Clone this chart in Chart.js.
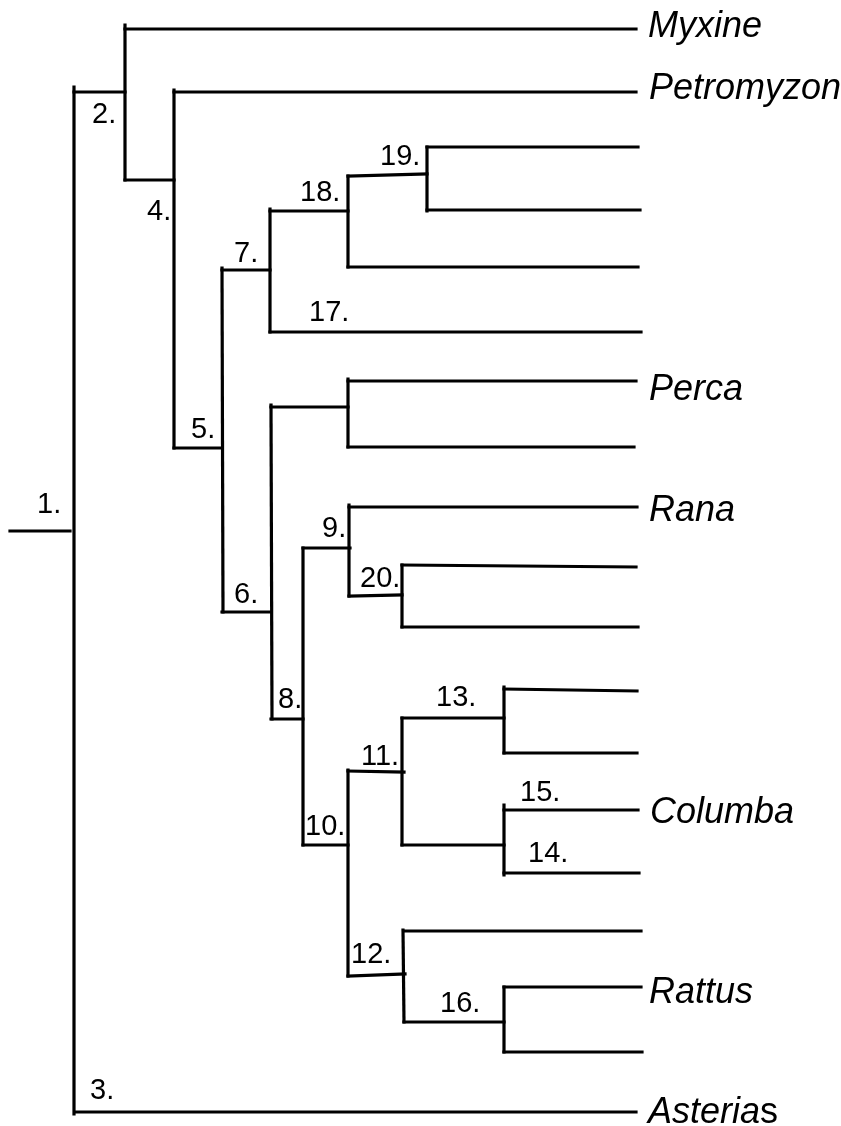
<!DOCTYPE html>
<html>
<head>
<meta charset="utf-8">
<script src="https://cdn.jsdelivr.net/npm/chart.js@4.4.0/dist/chart.umd.min.js"></script>
<style>
  html, body { margin: 0; padding: 0; background: #ffffff; }
  #wrap { position: relative; width: 841px; height: 1126px; }
</style>
</head>
<body>
<div id="wrap"><canvas id="c"></canvas></div>
<script>
// ---- Tree branches (data units of the x/y scales) ----
// horizontal branches: start x/y, end x/y
const hX0 = [125, 174, 427, 427, 348, 270, 348, 348, 349, 402, 402, 504, 504, 504, 504, 404, 504, 504, 75,
             10, 74, 125, 174, 222, 270, 348, 222, 271, 271, 303, 349, 303, 348, 402, 402, 348, 404];
const hY0 = [29, 92, 147, 210, 267, 332, 381, 447, 507, 565, 627, 689, 753, 810, 873, 931, 987, 1052, 1112,
             531, 92, 180, 448, 270, 211, 176, 612, 407, 719, 548, 596, 845, 771, 718, 845, 976, 1022];
const hX1 = [636, 636, 638, 640, 638, 641, 636, 634, 637, 636, 638, 637, 637, 638, 639, 641, 641, 642, 636,
             70, 125, 174, 222, 270, 348, 427, 270, 348, 303, 350, 402, 348, 404, 504, 504, 405, 504];
const hY1 = [29, 92, 147, 210, 267, 332, 381, 447, 507, 567, 627, 691, 753, 810, 873, 931, 987, 1052, 1112,
             531, 92, 180, 448, 270, 211, 174, 612, 407, 719, 548, 595, 845, 772, 718, 845, 974, 1022];
// vertical branches: x, top y, x, bottom y
const vX0 = [74, 125, 174, 222, 270, 348, 427, 271, 348, 303, 349, 402, 348, 402, 504, 504, 403, 504];
const vY0 = [87, 25, 90, 268, 209, 176, 147, 405, 379, 548, 505, 565, 770, 718, 687, 805, 930, 987];
const vX1 = [74, 125, 174, 223, 270, 348, 427, 272, 348, 303, 349, 402, 348, 402, 504, 504, 404, 504];
const vY1 = [1114, 180, 448, 612, 332, 267, 211, 719, 447, 845, 596, 627, 976, 845, 753, 875, 1022, 1052];

// ---- Taxon names (at leaf tips) ----
const taxa      = ['Myxine', 'Petromyzon', 'Perca', 'Rana', 'Columba', 'Rattus', 'Asteria'];
const taxaTail  = ['', '', '', '', '', '', 's'];
const taxaX     = [648, 649, 649, 649, 650, 649, 648];
const taxaY     = [37, 99, 400, 521, 823, 1003, 1123];

// ---- Node numbers ----
const nodeLabels = ['1.', '2.', '3.', '4.', '5.', '6.', '7.', '8.', '9.', '10.',
                    '11.', '12.', '13.', '14.', '15.', '16.', '17.', '18.', '19.', '20.'];
const nodeX = [37, 92, 90, 147, 191, 234, 234, 278, 322, 305,
               361, 351, 436, 528, 520, 440, 309, 300, 380, 360];
const nodeY = [513, 123, 1099, 220, 438, 603, 262, 708, 537, 835,
               765, 963, 706, 862, 801, 1012, 321, 201, 165, 587];

// ---- Build datasets ----
const datasets = [];
for (let i = 0; i < hX0.length; i++) {
  datasets.push({ data: [{x: hX0[i], y: hY0[i]}, {x: hX1[i], y: hY1[i]}] });
}
for (let i = 0; i < vX0.length; i++) {
  datasets.push({ data: [{x: vX0[i], y: vY0[i]}, {x: vX1[i], y: vY1[i]}] });
}
datasets.forEach(d => {
  d.showLine = true;
  d.borderColor = '#000000';
  d.borderWidth = 3.2;
  d.pointRadius = 0;
  d.borderCapStyle = 'square';
  d.tension = 0;
  d.clip = false;
});

const labelPlugin = {
  id: 'treeLabels',
  beforeDraw(chart) {
    const ctx = chart.ctx;
    ctx.save();
    ctx.fillStyle = '#ffffff';
    ctx.fillRect(0, 0, chart.width, chart.height);
    ctx.restore();
  },
  afterDatasetsDraw(chart) {
    const ctx = chart.ctx;
    const xs = chart.scales.x, ys = chart.scales.y;
    ctx.save();
    ctx.fillStyle = '#000000';
    ctx.textAlign = 'left';
    ctx.textBaseline = 'alphabetic';
    // node numbers
    ctx.font = '29px "Liberation Sans", Arial, sans-serif';
    for (let i = 0; i < nodeLabels.length; i++) {
      ctx.fillText(nodeLabels[i], xs.getPixelForValue(nodeX[i]), ys.getPixelForValue(nodeY[i]));
    }
    // taxa
    for (let i = 0; i < taxa.length; i++) {
      const px = xs.getPixelForValue(taxaX[i]);
      const py = ys.getPixelForValue(taxaY[i]);
      ctx.font = 'italic 36px "Liberation Sans", Arial, sans-serif';
      ctx.fillText(taxa[i], px, py);
      if (taxaTail[i]) {
        const w = ctx.measureText(taxa[i]).width;
        ctx.font = '36px "Liberation Sans", Arial, sans-serif';
        ctx.fillText(taxaTail[i], px + w, py);
      }
    }
    ctx.restore();
  }
};

new Chart(document.getElementById('c'), {
  type: 'scatter',
  data: { datasets },
  options: {
    responsive: true,
    maintainAspectRatio: false,
    animation: false,
    events: [],
    layout: { padding: 0 },
    plugins: { legend: { display: false }, tooltip: { enabled: false } },
    scales: {
      x: { type: 'linear', min: 0, max: 841, display: false },
      y: { type: 'linear', min: 0, max: 1126, reverse: true, display: false }
    }
  },
  plugins: [labelPlugin]
});
</script>
</body>
</html>
